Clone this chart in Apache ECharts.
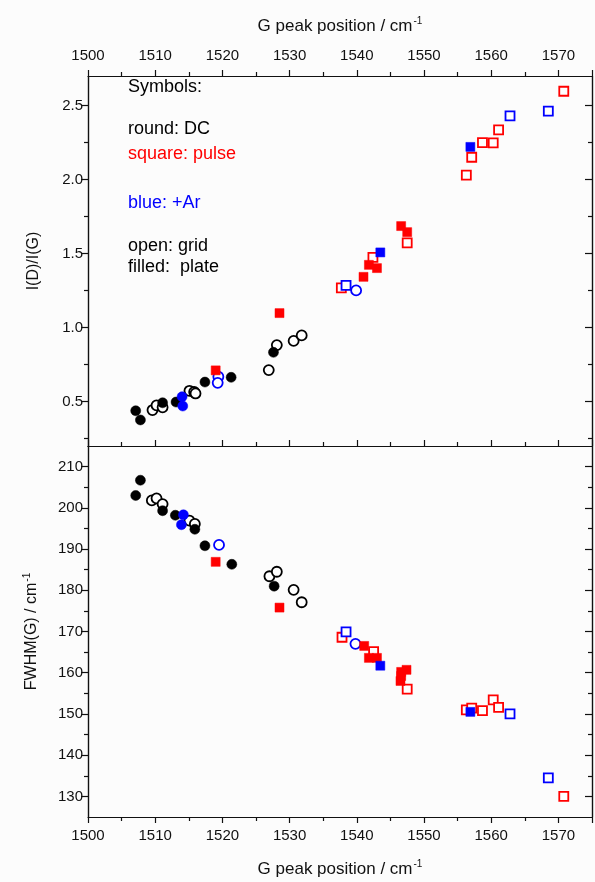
<!DOCTYPE html>
<html>
<head>
<meta charset="utf-8">
<script src="https://cdn.jsdelivr.net/npm/echarts@6/dist/echarts.min.js"></script>
<style>
  html, body { margin: 0; padding: 0; background: #fcfcfc; }
  #chart { width: 595px; height: 882px; }
</style>
</head>
<body>
<div id="chart"></div>
<script>
// [G peak position, I(D)/I(G)]
const dcPlateRatio = [[1507.1, 0.438], [1507.8, 0.376], [1511.1, 0.492], [1513.1, 0.497], [1517.4, 0.632], [1521.3, 0.664], [1527.6, 0.833]]
const dcGridRatio = [[1509.6, 0.443], [1510.2, 0.475], [1511.1, 0.461], [1515.1, 0.573], [1515.8, 0.565], [1516.0, 0.555], [1526.9, 0.713], [1528.1, 0.882], [1530.6, 0.91], [1531.8, 0.947]]
const dcArPlateRatio = [[1514.0, 0.533], [1514.1, 0.47]]
const dcArGridRatio = [[1519.4, 0.668], [1519.3, 0.627], [1539.9, 1.251]]
const pulsePlateRatio = [[1519.0, 0.711], [1528.5, 1.098], [1541.0, 1.343], [1541.8, 1.424], [1543.0, 1.402], [1546.6, 1.686], [1547.5, 1.645]]
const pulseGridRatio = [[1537.7, 1.269], [1542.4, 1.474], [1547.5, 1.573], [1556.3, 2.03], [1557.1, 2.151], [1558.7, 2.25], [1560.3, 2.248], [1561.1, 2.336], [1570.8, 2.597]]
const pulseArPlateRatio = [[1543.5, 1.508], [1556.9, 2.221]]
const pulseArGridRatio = [[1538.4, 1.285], [1562.8, 2.43], [1568.5, 2.462]]

// [G peak position, FWHM(G)]
const dcPlateFwhm = [[1507.8, 206.7], [1507.1, 203.0], [1511.1, 199.3], [1513.0, 198.2], [1515.9, 194.8], [1517.4, 190.8], [1521.4, 186.3], [1527.7, 181.0]]
const dcGridFwhm = [[1509.5, 201.8], [1510.2, 202.3], [1511.1, 200.9], [1515.1, 196.9], [1515.9, 196.1], [1527.0, 183.4], [1528.1, 184.5], [1530.6, 180.1], [1531.8, 177.1]]
const dcArPlateFwhm = [[1514.2, 198.3], [1513.9, 195.9]]
const dcArGridFwhm = [[1519.5, 191.0], [1539.8, 167.0]]
const pulsePlateFwhm = [[1519.0, 186.9], [1528.5, 175.8], [1541.1, 166.5], [1541.8, 163.6], [1543.0, 163.6], [1546.6, 160.2], [1547.4, 160.7], [1546.6, 159.2], [1546.5, 158.0]]
const pulseGridFwhm = [[1537.8, 168.6], [1542.5, 165.1], [1547.5, 156.0], [1556.3, 151.0], [1557.1, 151.4], [1558.7, 150.8], [1560.3, 153.4], [1561.1, 151.6], [1570.8, 130.0]]
const pulseArPlateFwhm = [[1543.5, 161.7], [1556.9, 150.5]]
const pulseArGridFwhm = [[1538.4, 169.9], [1562.8, 150.0], [1568.5, 134.5]]

const xTicks = [1500, 1510, 1520, 1530, 1540, 1550, 1560, 1570]
const ratioTicks = [0.5, 1.0, 1.5, 2.0, 2.5]
const ratioMinor = [0.25, 0.75, 1.25, 1.75, 2.25]
const fwhmTicks = [130, 140, 150, 160, 170, 180, 190, 200, 210]
const fwhmMinor = [135, 145, 155, 165, 175, 185, 195, 205]

const legendLines = [
  { text: 'Symbols:', color: '#000' },
  { text: 'round: DC', color: '#000' },
  { text: 'square: pulse', color: '#ff0000' },
  { text: 'blue: +Ar', color: '#0000ff' },
  { text: 'open: grid', color: '#000' },
  { text: 'filled:  plate', color: '#000' }
]

const FONT = '"Liberation Sans", Arial, sans-serif'
const LINE = { lineStyle: { color: '#111', width: 1.2 } }
const chart = echarts.init(document.getElementById('chart'))

const nameStyle = size => ({
  fontSize: size, fontFamily: FONT, color: '#111',
  rich: { sup: { fontSize: 10, fontFamily: FONT, color: '#111', verticalAlign: 'top', padding: [0, 0, 10, 1] } }
})
const labelStyle = { fontSize: 15, fontFamily: FONT, color: '#111' }

const xBase = (grid, pos) => ({
  type: 'value', gridIndex: grid, position: pos, min: 1500, max: 1575, interval: 10,
  axisLine: LINE, splitLine: { show: false },
  axisTick: { show: true, inside: false, length: 6, lineStyle: { color: '#111', width: 1.2 } },
  minorTick: { show: true, splitNumber: 2, length: 4, lineStyle: { color: '#111', width: 1.2 } },
  axisLabel: { show: false }
})

const xLabel = margin => ({ show: true, margin, customValues: xTicks, formatter: v => String(v), ...labelStyle })

const yAxis = (grid, pos, min, max, ticks, len, inside, withLabel, fmt) => ({
  type: 'value', gridIndex: grid, position: pos, min, max,
  axisLine: LINE, splitLine: { show: false },
  axisTick: { show: true, inside, length: len, customValues: ticks, lineStyle: { color: '#111', width: 1.2 } },
  axisLabel: withLabel ? { show: true, customValues: ticks, margin: 5, formatter: fmt, ...labelStyle } : { show: false }
})

const sym = (name, data, xi, yi, shape, color, filled) => ({
  name, type: 'scatter', data, xAxisIndex: xi, yAxisIndex: yi,
  symbol: shape, symbolSize: shape === 'circle' ? 10 : 9,
  itemStyle: filled
    ? { color, borderColor: color, borderWidth: 0.5, opacity: 1 }
    : { color: '#fff', borderColor: color, borderWidth: 1.8, opacity: 1 },
  z: filled ? 3 : 2
})

const fmtRatio = v => v.toFixed(1)
const fmtFwhm = v => String(v)

const option = {
  backgroundColor: '#fcfcfc',
  animation: false,
  grid: [
    { left: 88, top: 76, width: 504, height: 370, outerBoundsMode: 'none' },
    { left: 88, top: 446, width: 504, height: 371, outerBoundsMode: 'none' }
  ],
  xAxis: [
    { ...xBase(0, 'top'), axisLabel: xLabel(13),
      name: 'G peak position / cm{sup|-1}', nameLocation: 'middle', nameGap: 40, nameTextStyle: nameStyle(17) },
    { ...xBase(0, 'bottom'), axisTick: { show: false }, minorTick: { show: false } },
    { ...xBase(1, 'bottom'), axisLabel: xLabel(11),
      name: 'G peak position / cm{sup|-1}', nameLocation: 'middle', nameGap: 42, nameTextStyle: nameStyle(17) },
    { ...xBase(1, 'top') }
  ],
  yAxis: [
    { ...yAxis(0, 'left', 0.2, 2.7, ratioTicks, 7, false, true, fmtRatio),
      name: 'I(D)/I(G)', nameLocation: 'middle', nameGap: 46, nameTextStyle: nameStyle(16) },
    yAxis(0, 'left', 0.2, 2.7, ratioMinor, 4, false, false),
    yAxis(0, 'right', 0.2, 2.7, ratioTicks, 7, true, false),
    yAxis(0, 'right', 0.2, 2.7, ratioMinor, 4, true, false),
    { ...yAxis(1, 'left', 125, 215, fwhmTicks, 7, false, true, fmtFwhm),
      name: 'FWHM(G) / cm{sup|-1}', nameLocation: 'middle', nameGap: 46, nameTextStyle: nameStyle(16) },
    yAxis(1, 'left', 125, 215, fwhmMinor, 4, false, false),
    yAxis(1, 'right', 125, 215, fwhmTicks, 7, true, false),
    yAxis(1, 'right', 125, 215, fwhmMinor, 4, true, false)
  ],
  graphic: legendLines.map((l, i) => ({
    type: 'text', left: 128, top: [78, 120, 145, 194, 237, 258][i],
    style: { text: l.text, fill: l.color, font: '18px ' + FONT }
  })),
  series: [
    sym('DC grid', dcGridRatio, 0, 0, 'circle', '#000', false),
    sym('DC plate', dcPlateRatio, 0, 0, 'circle', '#000', true),
    sym('DC Ar grid', dcArGridRatio, 0, 0, 'circle', '#0000ff', false),
    sym('DC Ar plate', dcArPlateRatio, 0, 0, 'circle', '#0000ff', true),
    sym('pulse grid', pulseGridRatio, 0, 0, 'rect', '#ff0000', false),
    sym('pulse plate', pulsePlateRatio, 0, 0, 'rect', '#ff0000', true),
    sym('pulse Ar grid', pulseArGridRatio, 0, 0, 'rect', '#0000ff', false),
    sym('pulse Ar plate', pulseArPlateRatio, 0, 0, 'rect', '#0000ff', true),
    sym('DC grid', dcGridFwhm, 2, 4, 'circle', '#000', false),
    sym('DC plate', dcPlateFwhm, 2, 4, 'circle', '#000', true),
    sym('DC Ar grid', dcArGridFwhm, 2, 4, 'circle', '#0000ff', false),
    sym('DC Ar plate', dcArPlateFwhm, 2, 4, 'circle', '#0000ff', true),
    sym('pulse grid', pulseGridFwhm, 2, 4, 'rect', '#ff0000', false),
    sym('pulse plate', pulsePlateFwhm, 2, 4, 'rect', '#ff0000', true),
    sym('pulse Ar grid', pulseArGridFwhm, 2, 4, 'rect', '#0000ff', false),
    sym('pulse Ar plate', pulseArPlateFwhm, 2, 4, 'rect', '#0000ff', true)
  ]
}

chart.setOption(option)
</script>
</body>
</html>
